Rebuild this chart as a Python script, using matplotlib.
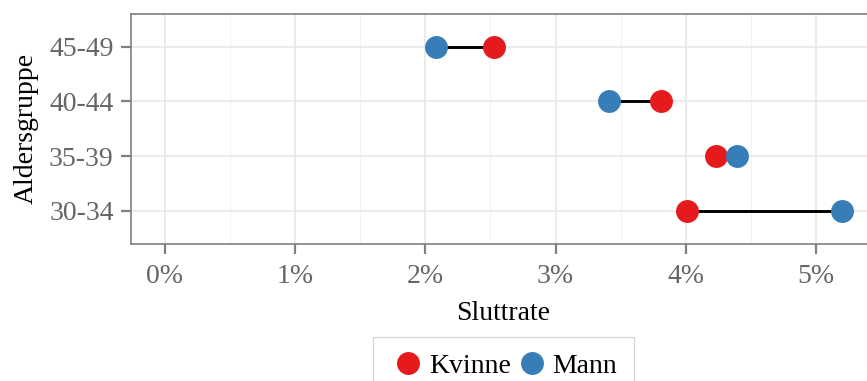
import matplotlib.pyplot as plt
from matplotlib.ticker import FuncFormatter, MultipleLocator

plt.rcParams['font.family'] = ['Liberation Serif', 'DejaVu Serif']

groups = ['30-34', '35-39', '40-44', '45-49']
kvinne = [4.01, 4.23, 3.81, 2.53]
mann = [5.20, 4.39, 3.41, 2.08]

red = '#E41A1C'
blue = '#377EB8'

fig = plt.figure(figsize=(8.67, 3.81), dpi=100)
ax = fig.add_axes([131 / 867, 1 - 243.5 / 381, 745 / 867, 229.5 / 381])

ypos = list(range(len(groups)))
for y, k, m in zip(ypos, kvinne, mann):
    ax.plot([k, m], [y, y], color='black', lw=2.1, zorder=2, solid_capstyle='butt')
ax.plot(kvinne, ypos, 'o', ms=16.5, color=red, mec='none', label='Kvinne', zorder=3)
ax.plot(mann, ypos, 'o', ms=16.5, color=blue, mec='none', label='Mann', zorder=3)

ax.set_xlim(-0.26, 5.46)
ax.set_ylim(-0.6, 3.6)
ax.set_yticks(ypos)
ax.set_yticklabels(groups)
ax.xaxis.set_major_locator(MultipleLocator(1))
ax.xaxis.set_minor_locator(MultipleLocator(0.5))
ax.xaxis.set_major_formatter(FuncFormatter(lambda v, p: f'{v:.0f}%'))

ax.grid(True, which='major', color='#E8E8E8', lw=1.2, zorder=0)
ax.grid(True, which='minor', axis='x', color='#F2F2F2', lw=0.7, zorder=0)
ax.set_axisbelow(True)
for s in ax.spines.values():
    s.set_color('#808080')
    s.set_linewidth(1.2)

ax.tick_params(axis='both', which='major', labelsize=20, labelcolor='#666666',
               color='#808080', length=7.5, width=1.6, pad=5)
ax.tick_params(axis='x', which='major', pad=7)
ax.tick_params(axis='x', which='minor', length=0)
ax.set_xlabel('Sluttrate', fontsize=20, labelpad=9)
ax.set_ylabel('Aldersgruppe', fontsize=20, labelpad=7)

leg = fig.legend(loc='upper center', bbox_to_anchor=(503.5 / 867, 1 - 337 / 381),
                 ncol=2, fontsize=20, frameon=True, fancybox=False,
                 handletextpad=0.1, columnspacing=0.1, borderpad=0.6,
                 borderaxespad=0, markerscale=1.0, handlelength=1.3)
leg.get_frame().set_edgecolor('#CCCCCC')
leg.get_frame().set_linewidth(1.0)

fig.savefig('out.png', dpi=100)
